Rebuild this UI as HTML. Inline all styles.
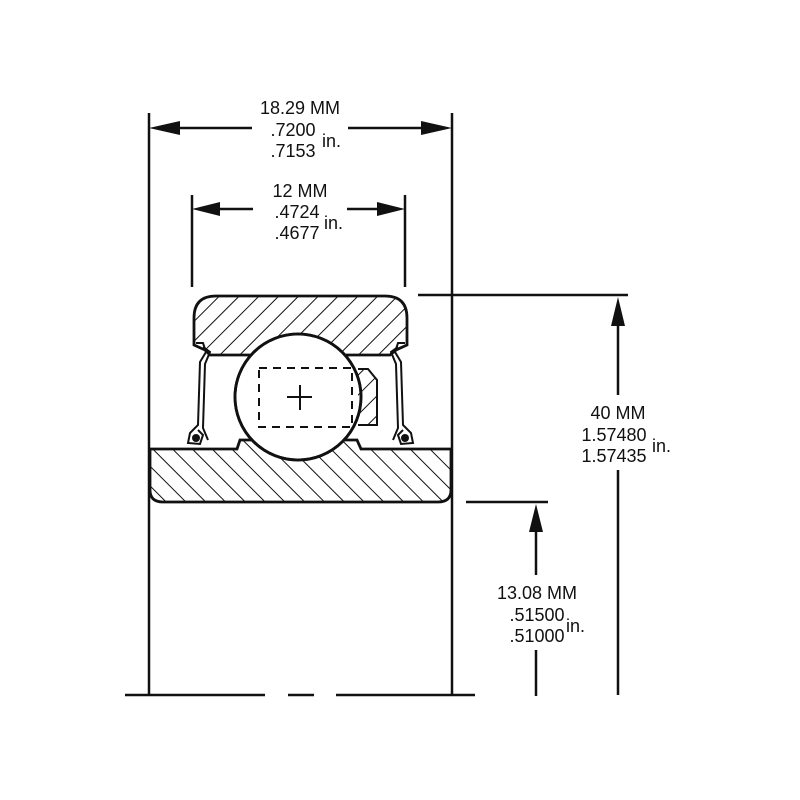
<!DOCTYPE html>
<html><head><style>html,body{margin:0;padding:0;background:#fff}svg{display:block}text{font-family:"Liberation Sans",sans-serif;fill:#111;font-size:18px}</style></head>
<body>
<svg width="800" height="800" viewBox="0 0 800 800">
<defs>
<pattern id="h" patternUnits="userSpaceOnUse" width="14" height="14" patternTransform="rotate(45)">
<line x1="0" y1="0" x2="0" y2="14" stroke="#111" stroke-width="2"/></pattern>
<pattern id="h2" patternUnits="userSpaceOnUse" width="14" height="14" patternTransform="rotate(-45)">
<line x1="0" y1="0" x2="0" y2="14" stroke="#111" stroke-width="2"/></pattern>
</defs>
<g stroke="#111" stroke-width="2.5" fill="none">
<line x1="149" y1="113" x2="149" y2="447"/>
<line x1="452" y1="113" x2="452" y2="447"/>
<line x1="192" y1="195" x2="192" y2="287"/>
<line x1="405" y1="195" x2="405" y2="287"/>
<line x1="175" y1="128" x2="252" y2="128"/>
<line x1="348" y1="128" x2="425" y2="128"/>
<line x1="215" y1="209" x2="253" y2="209"/>
<line x1="347" y1="209" x2="382" y2="209"/>
<line x1="418" y1="295" x2="628" y2="295"/>
<line x1="618" y1="320" x2="618" y2="395"/>
<line x1="618" y1="470" x2="618" y2="695"/>
<line x1="466" y1="502" x2="548" y2="502"/>
<line x1="536" y1="525" x2="536" y2="575"/>
<line x1="536" y1="650" x2="536" y2="696"/>
<line x1="149" y1="447" x2="149" y2="695"/>
<line x1="452" y1="447" x2="452" y2="695"/>
<line x1="125" y1="695" x2="265" y2="695"/>
<line x1="288" y1="695" x2="314" y2="695"/>
<line x1="336" y1="695" x2="475" y2="695"/>
</g>
<g fill="#111">
<polygon points="149,128 180,121 180,135"/>
<polygon points="452,128 421,121 421,135"/>
<polygon points="192,209 220,202 220,216"/>
<polygon points="405,209 377,202 377,216"/>
<polygon points="618,297 611,326 625,326"/>
<polygon points="536,504 529,532 543,532"/>
</g>
<path d="M194,345 L194,318 Q194,296 216,296 L385,296 Q407,296 407,318 L407,345 L396,350 L390,355 L210,355 L205,350 Z" fill="url(#h)" stroke="#111" stroke-width="2.8"/>
<path d="M150,449 L237,449 L240,440 L357,440 L361,449 L451,449 L451,490 Q451,502 438,502 L163,502 Q150,502 150,490 Z" fill="url(#h2)" stroke="#111" stroke-width="2.8"/>
<circle cx="298" cy="397" r="63" fill="#fff" stroke="#111" stroke-width="2.8"/>
<rect x="259" y="368" width="93" height="59" fill="none" stroke="#111" stroke-width="2" stroke-dasharray="8,6"/>
<line x1="287" y1="397" x2="312" y2="397" stroke="#111" stroke-width="2"/>
<line x1="300" y1="385" x2="300" y2="410" stroke="#111" stroke-width="2"/>
<path d="M358,369 L368,369 L377,380 L377,425 L358,425" fill="url(#h)" stroke="#111" stroke-width="2"/>
<circle cx="298" cy="397" r="63" fill="none" stroke="#111" stroke-width="2.8"/>
<g fill="none" stroke="#111" stroke-width="2">
<path d="M196,343 L203,343 L206,352 L200,362 L198,425 L190,433 L188,443 L200,444 L203,435 L198,430"/>
<path d="M203,347 L210,352 L205,364 L203,428 L208,440"/>
<path d="M405,343 L398,343 L395,352 L401,362 L403,425 L411,433 L413,443 L401,444 L398,435 L403,430"/>
<path d="M398,347 L391,352 L396,364 L398,428 L393,440"/>
</g>
<circle cx="196" cy="438" r="4" fill="#111"/>
<circle cx="405" cy="438" r="4" fill="#111"/>
<text x="300" y="114" text-anchor="middle">18.29 MM</text>
<text x="293" y="136" text-anchor="middle">.7200</text>
<text x="293" y="157" text-anchor="middle">.7153</text>
<text x="322" y="147">in.</text>
<text x="300" y="197" text-anchor="middle">12 MM</text>
<text x="297" y="218" text-anchor="middle">.4724</text>
<text x="297" y="239" text-anchor="middle">.4677</text>
<text x="324" y="229">in.</text>
<text x="618" y="419" text-anchor="middle">40 MM</text>
<text x="614" y="441" text-anchor="middle">1.57480</text>
<text x="614" y="462" text-anchor="middle">1.57435</text>
<text x="652" y="452">in.</text>
<text x="537" y="599" text-anchor="middle">13.08 MM</text>
<text x="537" y="621" text-anchor="middle">.51500</text>
<text x="537" y="642" text-anchor="middle">.51000</text>
<text x="566" y="632">in.</text>
</svg>
</body></html>
